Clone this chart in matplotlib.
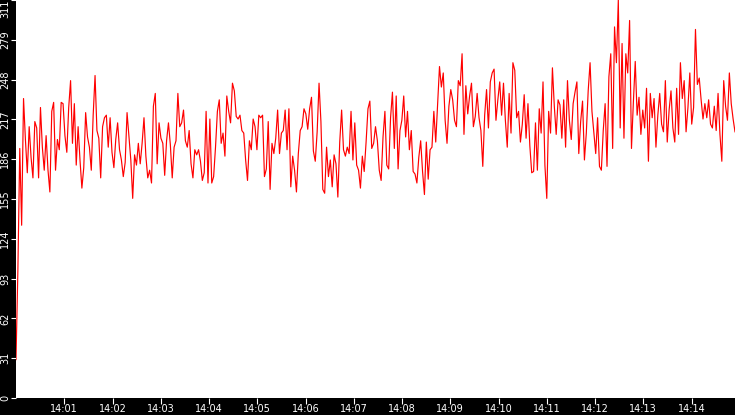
import matplotlib
matplotlib.use('Agg')
import matplotlib.pyplot as plt
import numpy as np
import pandas as pd

values = [
    30, 100, 195, 135, 234, 202, 176, 212, 188, 172, 216, 211, 172, 227, 196, 178,
    205, 178, 161, 224, 231, 178, 202, 194, 231, 230, 205, 192, 227, 248, 199, 230,
    182, 212, 186, 164, 180, 223, 204, 196, 178, 221, 252, 209, 203, 172, 212, 219,
    221, 196, 219, 192, 180, 202, 215, 194, 186, 173, 184, 223, 205, 186, 156, 190,
    182, 199,
    183, 199, 219, 189, 172, 178, 168, 228, 238, 183, 215, 203, 199, 174, 201, 215,
    198, 172, 196, 201, 238, 212, 215, 225, 201, 196, 209, 183, 172, 194, 190, 194,
    185, 170, 176, 224, 168, 218, 168, 173, 196, 224, 233, 199, 207, 189, 236, 224,
    215, 246, 240, 220, 218, 221, 209, 207, 186, 170, 201, 194, 218, 212, 194, 221,
    219, 221, 173, 179, 216, 163, 199, 191, 203, 225, 191, 207, 209, 225, 194, 226,
    165, 189, 178, 161, 191, 209, 212, 226, 222, 210, 226, 235, 193, 185, 208, 246,
    216, 163, 160, 196, 173, 186, 165, 190, 183, 157, 200, 225, 194, 189, 196, 191,
    224, 186, 215, 182, 178, 164, 189, 177, 200, 226, 232, 195, 199, 212, 201, 178,
    170, 204, 224, 182, 179, 219, 239, 195, 236, 179, 209, 217, 236, 204, 224, 194,
    209, 177, 175, 168, 188, 201, 177, 159, 200, 171, 194, 196, 224, 200, 229, 259,
    243, 254, 217, 199, 228, 241, 233, 217, 212, 248, 244, 269, 206, 244, 222, 236,
    246, 212, 220, 238, 219, 209, 181, 221, 241, 211, 247, 254, 257, 217, 233,
    247, 221, 246, 217, 196, 238, 207, 262, 256, 219, 224, 200, 214, 237, 203, 230,
    197, 176, 177, 215, 178, 226, 207, 247, 182, 156, 224, 207, 258, 228, 206, 233,
    229, 203, 233, 196, 248, 217, 202, 230, 239, 247, 191, 216, 232, 186, 207, 240,
    262, 224, 207, 191, 219, 181, 178, 209, 230, 181, 251, 269, 195, 290, 262,
    311, 211, 277, 203, 269, 254, 295, 195, 231, 263, 221, 235, 206, 225, 211, 242,
    185, 238, 219, 234, 196, 221, 238, 214, 208, 248, 200, 225, 240, 211, 200, 242,
    206, 262, 234, 248, 208, 227, 254, 214, 227, 288, 245, 250, 233, 218, 230, 219,
    233, 214, 211, 228, 209, 238, 206, 185, 248, 228, 217, 254, 230, 218, 208,
]

start_time = '2024-01-01 14:00:00'
end_time = '2024-01-01 14:14:54'
tick_times = ['2024-01-01 14:%02d:00' % m for m in range(1, 15)]
tick_labels = ['14:01', '14:02', '14:03', '14:04', '14:05', '14:06', '14:07',
               '14:08', '14:09', '14:10', '14:11', '14:12', '14:13', '14:14']

times = pd.date_range(start_time, end_time, periods=len(values))

W, H = 735, 415
fig = plt.figure(figsize=(W / 100, H / 100), dpi=100, facecolor='black')
ax = fig.add_axes([16 / W, 17 / H, 719 / W, 398 / H])
ax.set_facecolor('white')

ax.plot(times, values, color='#ff0000', lw=0.85)

ax.set_xlim(times[0], times[-1])
ymax = max(values)
ax.set_ylim(0, ymax)

yt = np.linspace(0, ymax, 11)
ax.set_yticks(yt)
ax.set_yticklabels([str(int(np.floor(v + 1e-9))) for v in yt], rotation=90,
                   va='center', fontsize=7, color='white')
ax.get_yticklabels()[-1].set_va('top')

ax.set_xticks(pd.to_datetime(tick_times))
ax.set_xticklabels(tick_labels, fontsize=7, color='white')

ax.tick_params(axis='y', colors='white', length=3.6, width=0.8, pad=0.8)
ax.tick_params(axis='x', colors='white', length=4.3, width=0.8, pad=0.3)
for s in ax.spines.values():
    s.set_visible(False)

fig.savefig('out.png', dpi=100, facecolor='black')
